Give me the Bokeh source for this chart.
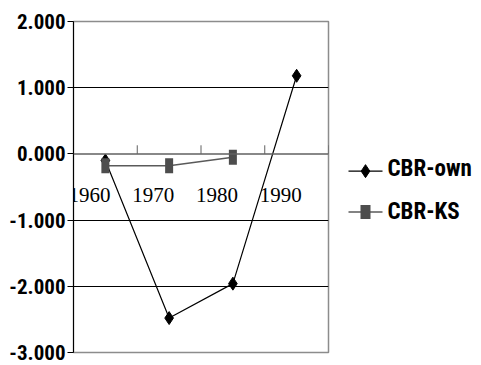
from bokeh.plotting import figure
from bokeh.layouts import row
from bokeh.models import Range1d, FixedTicker, NumeralTickFormatter, Span, ColumnDataSource
from bokeh.core.properties import value
from bokeh.embed import file_html
from bokeh.resources import INLINE

# ---- data ----
years = ["1960", "1970", "1980", "1990"]
cbr_own = [-0.10, -2.48, -1.96, 1.18]
cbr_ks = [-0.18, -0.18, -0.05, float("nan")]
y_ticks = [-3, -2, -1, 0, 1, 2]
series_names = ["CBR-own", "CBR-KS"]

SANS = "Roboto Condensed"
SERIF = "Liberation Serif"

centers = [i + 0.5 for i in range(len(years))]
bounds = [i + 1 for i in range(len(years))]

p = figure(width=340, height=365, x_range=Range1d(0, len(years)), y_range=Range1d(min(y_ticks), max(y_ticks)),
           output_backend="svg", toolbar_location=None, x_axis_location=None,
           min_border_left=73, min_border_right=12, min_border_top=21, min_border_bottom=13)
p.outline_line_color = "#8c8c8c"
p.outline_line_width = 1.5
p.background_fill_color = "white"
p.border_fill_color = "white"
p.xgrid.visible = False
p.ygrid.ticker = FixedTicker(ticks=[t for t in y_ticks if t not in (0, min(y_ticks), max(y_ticks))])
p.ygrid.grid_line_color = "black"
p.ygrid.grid_line_width = 1

ax = p.yaxis[0]
ax.ticker = FixedTicker(ticks=y_ticks)
ax.formatter = NumeralTickFormatter(format="0.000")
ax.axis_line_color = "black"
ax.major_tick_line_color = "black"
ax.major_tick_out = 6
ax.major_tick_in = 0
ax.minor_tick_line_color = None
ax.major_label_standoff = 2
ax.major_label_text_font = SANS
ax.major_label_text_font_style = "bold"
ax.major_label_text_font_size = "21px"
ax.major_label_text_color = "black"

# category axis along zero
p.add_layout(Span(location=0, dimension="width", line_color="#606060", line_width=1.5))
p.segment(x0=bounds, y0=[0] * len(bounds), x1=bounds, y1=[0.13] * len(bounds), line_color="#606060", line_width=1)
p.text(x=centers, y=[0] * len(years), text=years, x_offset=-16, y_offset=41,
       text_font=value(SERIF), text_font_size="21px", text_align="center", text_baseline="middle",
       text_color="black")

src = ColumnDataSource(dict(x=centers, own=cbr_own, ks=cbr_ks))
p.line("x", "own", source=src, line_color="black", line_width=1.2)
p.scatter("x", "own", source=src, marker="diamond", size=13, fill_color="black", line_color="black")
p.line("x", "ks", source=src, line_color="#5a5a5a", line_width=1.5)
p.rect("x", "ks", source=src, width=8, height=15, width_units="screen", height_units="screen",
       fill_color="#4d4d4d", line_color=None)

# legend panel
lg = figure(width=141, height=365, x_range=Range1d(0, 141), y_range=Range1d(365, 0),
            output_backend="svg", toolbar_location=None, x_axis_location=None, y_axis_location=None,
            min_border=0)
lg.outline_line_color = None
lg.grid.visible = False
ly = [165, 210]
lg.segment(x0=[8, 8], y0=ly, x1=[42, 42], y1=ly, line_color=["black", "#5a5a5a"], line_width=[1.2, 1.5])
lg.scatter(x=[25], y=[ly[0]], marker="diamond", size=13, fill_color="black", line_color="black")
lg.rect(x=[25], y=[ly[1]], width=10, height=14, width_units="screen", height_units="screen",
        fill_color="#4d4d4d", line_color=None)
lg.text(x=[47, 47], y=[ly[0] - 3, ly[1] - 1], text=series_names, text_font=value(SANS), text_font_style="bold",
        text_font_size="23px", text_baseline="middle", text_align="left", text_color="black")

layout = row(p, lg, spacing=0)
open("out.html", "w").write(file_html(layout, INLINE))
